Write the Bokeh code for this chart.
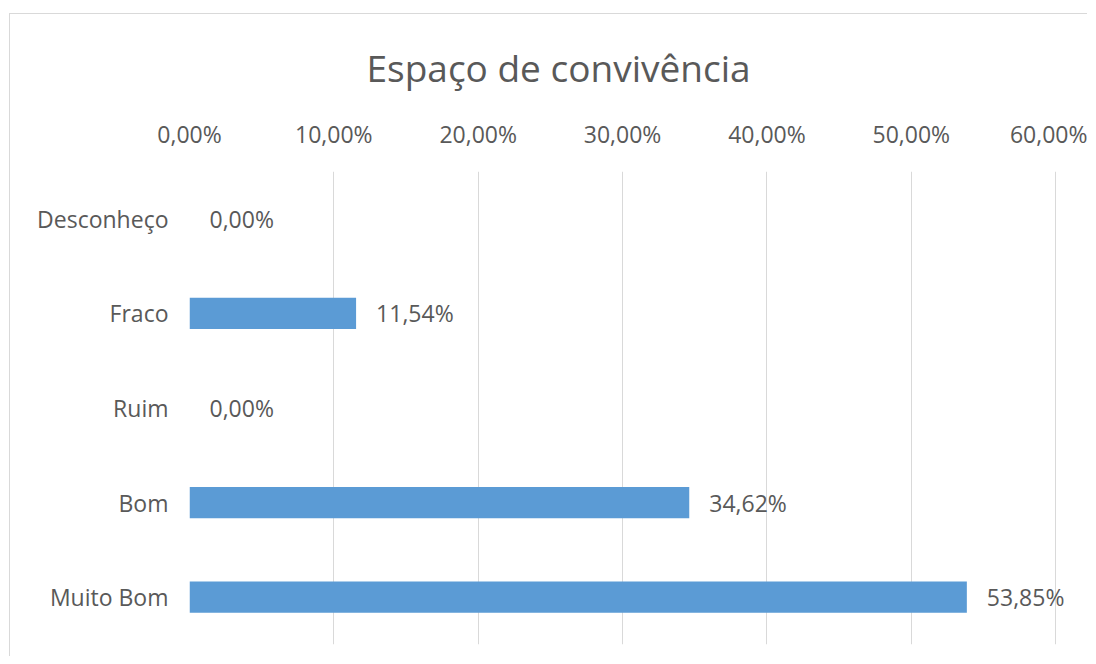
from bokeh.plotting import figure
from bokeh.models import ColumnDataSource, CustomJSTickFormatter, FixedTicker, LabelSet
from bokeh.core.properties import value
from bokeh.embed import file_html
from bokeh.resources import INLINE

title_text = "Espaço de convivência"
categories = ["Desconheço", "Fraco", "Ruim", "Bom", "Muito Bom"]
values = [0.0, 0.1154, 0.0, 0.3462, 0.5385]
x_ticks = [0.0, 0.1, 0.2, 0.3, 0.4, 0.5, 0.6]

labels = [f"{v * 100:.2f}".replace(".", ",") + "%" for v in values]

FONT = "Open Sans"
TXT = "#595959"
GRID = "#d9d9d9"
BAR = "#5b9bd5"
LBL = "23px"

src = ColumnDataSource(dict(cat=categories, val=values, lab=labels))

p = figure(
    width=1078, height=643, margin=(13, 0, 0, 9),
    y_range=list(reversed(categories)), x_range=(0, 0.62),
    x_axis_location="above",
    output_backend="svg", toolbar_location=None,
    min_border_left=179, min_border_right=4, min_border_top=157, min_border_bottom=13,
    background_fill_color="white", border_fill_color="white",
)
p.styles = {"border-top": "1px solid #d9d9d9", "border-left": "1px solid #d9d9d9"}
p.outline_line_color = None

p.title.text = title_text
p.title.text_font = FONT
p.title.text_font_size = "37px"
p.title.text_font_style = "normal"
p.title.text_color = TXT
p.title.align = "left"
p.title.offset = 177
p.title.standoff = 44

p.hbar(y="cat", right="val", left=0, height=0.33, fill_color=BAR, line_color=None, source=src)

p.add_layout(LabelSet(x="val", y="cat", text="lab", source=src, x_offset=20,
                      text_align="left", text_baseline="middle",
                      text_font=value(FONT), text_font_size=LBL, text_color=TXT))

xa = p.xaxis[0]
xa.ticker = FixedTicker(ticks=x_ticks)
xa.formatter = CustomJSTickFormatter(code="return (tick*100).toFixed(2).replace('.', ',') + '%';")
xa.axis_line_color = None
xa.major_tick_line_color = None
xa.minor_tick_line_color = None
xa.major_label_text_font = FONT
xa.major_label_text_font_size = LBL
xa.major_label_text_color = TXT
xa.major_label_standoff = 16

ya = p.yaxis[0]
ya.axis_line_color = None
ya.major_tick_line_color = None
ya.minor_tick_line_color = None
ya.major_label_text_font = FONT
ya.major_label_text_font_size = LBL
ya.major_label_text_color = TXT
ya.major_label_standoff = 15

p.xgrid.grid_line_color = GRID
p.xgrid.ticker = FixedTicker(ticks=x_ticks)
p.ygrid.grid_line_color = None

open("out.html", "w").write(file_html(p, INLINE))
